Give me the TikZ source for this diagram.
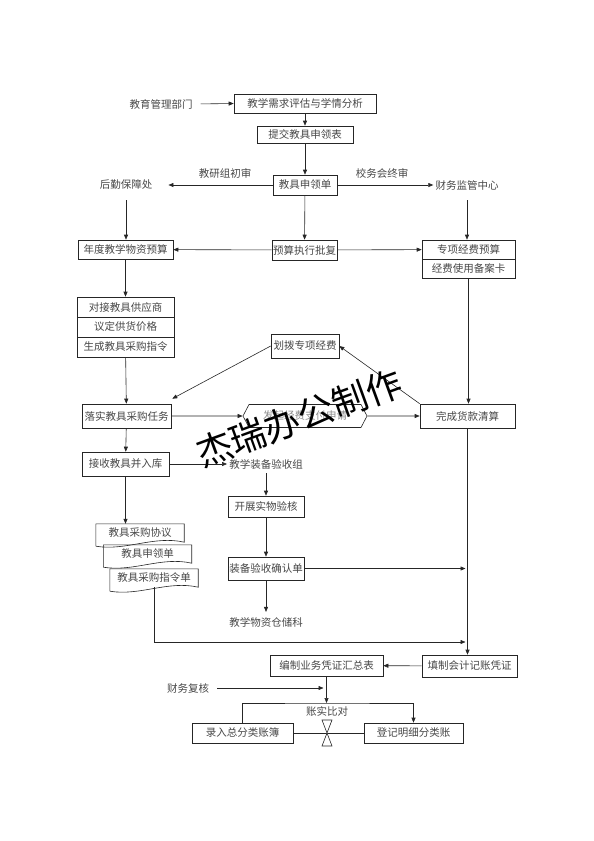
\documentclass[tikz,border=0pt]{standalone}
\usepackage{fontspec}
\setmainfont{Noto Sans CJK SC}
\usetikzlibrary{arrows.meta, calc, shapes.symbols}

\begin{document}
\begin{tikzpicture}[
  x=1pt, y=-1pt,
  font=\fontsize{10.5}{12}\selectfont,
  bx/.style  = {draw=black!85, fill=white, line width=0.6pt, text=black!72,
                inner sep=0pt, minimum height=20pt},
  lbl/.style = {text=black!72, inner sep=2pt},
  ln/.style  = {draw=black!85, line width=0.6pt},
  ar/.style  = {ln, ->},
  >={Triangle[length=5pt,width=4pt]},
]
\useasboundingbox (0,0) rectangle (594,841);

% request and review
\node[lbl] (dept) at (161,104) {教育管理部门};
\node[bx, minimum width=142pt, minimum height=19pt] (need) at (305,103.5) {教学需求评估与学情分析};
\node[bx, minimum width=96pt, minimum height=17pt] (form) at (305,134.5) {提交教具申领表};
\node[bx, minimum width=64pt] (slip) at (305,185) {教具申领单};
\node[lbl] (rev1) at (225,173) {教研组初审};
\node[lbl] (rev2) at (382,173) {校务会终审};
\node[lbl] (logis) at (126,185) {后勤保障处};
\node[lbl] (fin) at (467,185) {财务监管中心};

\draw[ar, shorten <=6pt] (dept.east) -- (need.west);
\draw[ar] (need) -- (form);
\draw[ar] (form) -- (slip);
\draw[ar, shorten >=14pt] (slip.west) -- (logis.east);
\draw[ar] (slip.east) -- (fin.west);

% budgets
\node[bx, minimum width=95pt, minimum height=19pt] (annual) at (125.5,249.5) {年度教学物资预算};
\node[bx, minimum width=65pt] (approve) at (304.5,250) {预算执行批复};
\node[bx, minimum width=93pt, minimum height=19pt] (special) at (468.5,249.5) {专项经费预算};
\node[bx, minimum width=93pt, minimum height=19pt] (record) at (468.5,268.5) {经费使用备案卡};

\draw[ar, shorten <=8pt] (logis.south) -- (logis.south |- annual.north);
\draw[ar, shorten <=8pt] (fin.south) -- (fin.south |- special.north);
\draw[ar] (slip) -- (approve);
\draw[ar] (approve) -- (annual);
\draw[ar] (approve) -- (special);

% supplier steps
\foreach \name/\ny/\txt in {supp/307/对接教具供应商, price/327/议定供货价格, order/347/生成教具采购指令}
  \node[bx, minimum width=97pt] (\name) at (125.5,\ny) {\txt};

\draw[ar] (annual) -- (supp);

% payment
\node[bx, minimum width=89pt, minimum height=24pt] (task) at (126.5,416) {落实教具采购任务};
\node[bx, minimum width=68pt, minimum height=24pt] (alloc) at (305,346) {划拨专项经费};
\node[bx, shape=signal, signal to=east and west, signal pointer angle=125, text=black!45,
      minimum width=124pt, minimum height=23pt] (pay) at (305,416) {发起经费支付申请};
\node[bx, minimum width=95pt, minimum height=24pt] (settle) at (467.5,416) {完成货款清算};

\draw[ar] (order) -- (task);
\draw[ar] (record.south) -- (record.south |- settle.north);
\draw[ar] (alloc.west) -- ([shift={(1,-5)}]task.north east);
\draw[ar] (settle.north west) -- (alloc.east);
\draw[ar] (task) -- (pay);
\draw[ar] (pay) -- (settle);

% acceptance
\node[bx, minimum width=87pt, minimum height=24pt] (store) at (125.5,464) {接收教具并入库};
\node[lbl] (group) at (266,464) {教学装备验收组};
\node[bx, minimum width=76pt, minimum height=21pt] (check) at (266,506.5) {开展实物验核};
\node[bx, minimum width=76pt, minimum height=23pt] (confirm) at (266,568.5) {装备验收确认单};
\node[lbl] (wh) at (266,622) {教学物资仓储科};

\draw[ar] (task) -- (store);
\draw[ar] (store) -- (group);
\draw[ar, shorten <=2pt] (group) -- (check);
\draw[ar] (check) -- (confirm);
\draw[ar, shorten >=3pt] (confirm) -- (wh);

% documents
\foreach \name/\nx/\ny/\txt in {doc1/140/533/教具采购协议, doc2/147.5/554/教具申领单, doc3/154/578/教具采购指令单}{
  \node[lbl, minimum width=88pt, minimum height=18pt, inner sep=0pt] (\name) at (\nx,\ny) {\txt};
  \draw[ln] ($(\name.south west)+(0,4)$) -- (\name.north west) -- (\name.north east) -- (\name.south east)
    .. controls ($(\name.south east)+(-30,-7)$) and ($(\name.south west)+(30,9)$) .. ($(\name.south west)+(0,4)$);
}

\draw[ar] (store.south) -- (store.south |- doc1.north);

% accounting
\node[bx, minimum width=95pt, minimum height=22pt] (voucher) at (469.5,666) {填制会计记账凭证};
\node[bx, minimum width=113pt, minimum height=21pt] (summary) at (326.5,665.5) {编制业务凭证汇总表};
\node[lbl] (recheck) at (188,688) {财务复核};
\node[lbl] (cmp) at (327,711) {账实比对};
\node[bx, minimum width=101pt] (ledger) at (242.5,733) {录入总分类账簿};
\node[bx, minimum width=99pt] (detail) at (413.5,733) {登记明细分类账};
\coordinate (merge) at (467.5,642);
\coordinate (fork) at (326.5,703);
\coordinate (tie) at (327,733);

\draw[ar] (settle.south) -- (settle.south |- voucher.north);
\draw[ar, shorten >=2pt] (confirm.east) -- (settle.south |- confirm.east);
\draw[ar, shorten >=2pt] (doc3.south) |- (merge);
\draw[ar] (voucher) -- (summary);
\draw[ar] (summary.south) -- (fork);
\draw[ar, shorten <=6pt, shorten >=3pt] (recheck.east) -- (summary.south |- recheck.east);
\draw[ar] (ledger.north) |- (fork) -| (detail.north);
\draw[ln] (ledger) -- (detail);
\draw[ln, fill=white] (tie) -- ++(-5,-13) -- ++(10,0) -- cycle
                      (tie) -- ++(-5,13) -- ++(10,0) -- cycle;

% watermark
\node[rotate=20, font=\fontsize{36}{36}\selectfont, inner sep=0pt] (mark) at (299,418) {杰瑞办公制作};

\end{tikzpicture}
\end{document}
